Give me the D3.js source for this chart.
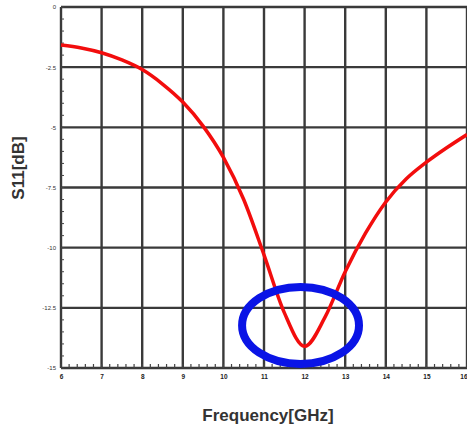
<!DOCTYPE html>
<html>
<head>
<meta charset="utf-8">
<script src="https://cdn.jsdelivr.net/npm/d3@7"></script>
<style>
  body { margin: 0; background: #fff; }
  svg { display: block; font-family: "Liberation Sans", Arial, sans-serif; }
</style>
</head>
<body>
<div id="chart"></div>
<script>
// values
var freqTicks = [6, 7, 8, 9, 10, 11, 12, 13, 14, 15, 16];
var dbTicks = [0, -2.5, -5, -7.5, -10, -12.5, -15];
var freq = [6, 6.5, 7, 7.5, 8, 8.5, 9, 9.5, 10, 10.5, 11, 11.5, 12, 12.5, 13, 13.5, 14, 14.5, 15, 15.5, 16];
var s11 = [-1.58, -1.7, -1.9, -2.2, -2.6, -3.2, -3.95, -4.95, -6.25, -8.0, -10.3, -12.7, -14.1, -12.9, -11.0, -9.4, -8.1, -7.15, -6.45, -5.85, -5.3];
// highlight ellipse (centre freq, centre dB, half width GHz, half height dB)
var mark = [11.9, -13.23, 1.44, 1.6];

var width = 467, height = 436;
var margin = {top: 7, right: 0, bottom: 68, left: 61};

var svg = d3.select("#chart").append("svg")
    .attr("width", width)
    .attr("height", height);

var x = d3.scaleLinear().domain([6, 16]).range([margin.left, width - margin.right]);
var y = d3.scaleLinear().domain([0, -15]).range([margin.top, height - margin.bottom]);

// grid
var grid = svg.append("g").attr("stroke", "#3a3a3a").attr("stroke-width", 2.4);
grid.selectAll("line.v")
    .data(freqTicks)
    .enter().append("line")
    .attr("x1", function(d) { return x(d); })
    .attr("x2", function(d) { return x(d); })
    .attr("y1", y(0))
    .attr("y2", y(-15));
grid.selectAll("line.h")
    .data(dbTicks)
    .enter().append("line")
    .attr("x1", x(6))
    .attr("x2", x(16))
    .attr("y1", function(d) { return y(d); })
    .attr("y2", function(d) { return y(d); });

// minor ticks along bottom and left edges
var minorX = d3.range(6, 16.01, 0.2);
svg.append("g").selectAll("line")
    .data(minorX)
    .enter().append("line")
    .attr("x1", function(d) { return x(d); })
    .attr("x2", function(d) { return x(d); })
    .attr("y1", y(-15) - 4)
    .attr("y2", y(-15))
    .attr("stroke", "#444")
    .attr("stroke-width", 1.2);
var minorY = d3.range(0, -15.01, -0.5);
svg.append("g").selectAll("line")
    .data(minorY)
    .enter().append("line")
    .attr("x1", x(6))
    .attr("x2", x(6) + 3)
    .attr("y1", function(d) { return y(d); })
    .attr("y2", function(d) { return y(d); })
    .attr("stroke", "#444")
    .attr("stroke-width", 1);

// axes (labels only, lines come from the grid)
var xAxis = svg.append("g")
    .attr("transform", "translate(0," + (y(-15) + 2) + ")")
    .call(d3.axisBottom(x).tickValues(freqTicks).tickSize(0).tickPadding(4).tickFormat(d3.format("d")));
xAxis.select(".domain").remove();
xAxis.selectAll("text").attr("font-size", 6.5).attr("font-weight", "bold").attr("fill", "#222");
xAxis.selectAll("text").filter(function(d) { return d === 16; }).attr("text-anchor", "end");

var yAxis = svg.append("g")
    .attr("transform", "translate(" + (x(6) - 2) + ",0)")
    .call(d3.axisLeft(y).tickValues(dbTicks).tickSize(0).tickPadding(3).tickFormat(function(d) { return String(d); }));
yAxis.select(".domain").remove();
yAxis.selectAll("text").attr("font-size", 6).attr("fill", "#333");

// curve
var line = d3.line()
    .x(function(d) { return x(d[0]); })
    .y(function(d) { return y(d[1]); })
    .curve(d3.curveMonotoneX);
svg.append("path")
    .datum(d3.zip(freq, s11))
    .attr("d", line)
    .attr("fill", "none")
    .attr("stroke", "#f20d0d")
    .attr("stroke-width", 3.5);

// blue ellipse
svg.append("ellipse")
    .attr("cx", x(mark[0]))
    .attr("cy", y(mark[1]))
    .attr("rx", x(mark[0] + mark[2]) - x(mark[0]))
    .attr("ry", y(mark[1] - mark[3]) - y(mark[1]))
    .attr("fill", "none")
    .attr("stroke", "#0a14e6")
    .attr("stroke-width", 8);

// titles
svg.append("text")
    .attr("x", 268)
    .attr("y", 421)
    .attr("text-anchor", "middle")
    .attr("font-size", 17)
    .attr("font-weight", "bold")
    .attr("fill", "#333")
    .text("Frequency[GHz]");
svg.append("text")
    .attr("transform", "translate(24,168) rotate(-90)")
    .attr("text-anchor", "middle")
    .attr("font-size", 17)
    .attr("font-weight", "bold")
    .attr("fill", "#333")
    .text("S11[dB]");
</script>
</body>
</html>
